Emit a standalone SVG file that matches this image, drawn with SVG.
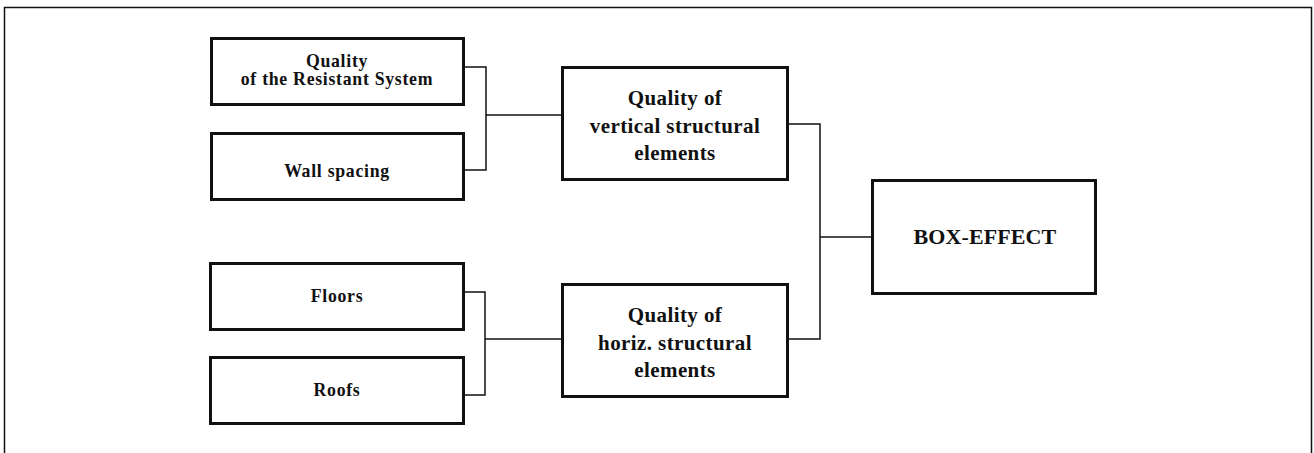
<svg xmlns="http://www.w3.org/2000/svg" width="1314" height="453" viewBox="0 0 1314 453">
<style>
.box{fill:#fff;stroke:#111;stroke-width:3}
.t{font-family:"Liberation Serif","Times New Roman",serif;font-weight:bold;fill:#111;text-anchor:middle}
.s{font-size:17.8px;letter-spacing:0.7px}
.m{font-size:21px;letter-spacing:0.4px}
.b{font-size:22px;letter-spacing:0.1px}
.c{fill:none;stroke:#111;stroke-width:1.5}
</style>
<rect width="1314" height="453" fill="#fff"/>
<path d="M4.5,453 V7.5 H1311.5 V453" fill="none" stroke="#111" stroke-width="1.5"/>
<g id="connectors">
<path class="c" d="M463,67 H486 V170 H463"/>
<path class="c" d="M486,115 H562"/>
<path class="c" d="M463,292 H485 V395 H463"/>
<path class="c" d="M485,339 H562"/>
<path class="c" d="M787,124 H820 V339 H787"/>
<path class="c" d="M820,237 H872"/>
</g>
<g id="n-resistant">
<rect class="box" x="211.5" y="38.5" width="252" height="66"/>
<text class="t s" x="337" y="67">Quality</text>
<text class="t s" x="337" y="85">of the Resistant System</text>
</g>
<g id="n-wall">
<rect class="box" x="211.5" y="133.5" width="252" height="66"/>
<text class="t s" x="337" y="177">Wall spacing</text>
</g>
<g id="n-floors">
<rect class="box" x="210.5" y="263.5" width="253" height="66"/>
<text class="t s" x="337" y="302">Floors</text>
</g>
<g id="n-roofs">
<rect class="box" x="210.5" y="357.5" width="253" height="66"/>
<text class="t s" x="337" y="396">Roofs</text>
</g>
<g id="n-vertical">
<rect class="box" x="562.5" y="67.5" width="225" height="112"/>
<text class="t m" x="675" y="105">Quality of</text>
<text class="t m" x="675" y="133">vertical structural</text>
<text class="t m" x="675" y="160">elements</text>
</g>
<g id="n-horiz">
<rect class="box" x="562.5" y="284.5" width="225" height="112"/>
<text class="t m" x="675" y="322">Quality of</text>
<text class="t m" x="675" y="350">horiz. structural</text>
<text class="t m" x="675" y="377">elements</text>
</g>
<g id="n-box">
<rect class="box" x="872.5" y="180.5" width="223" height="113"/>
<text class="t b" x="985" y="244">BOX-EFFECT</text>
</g>
</svg>
